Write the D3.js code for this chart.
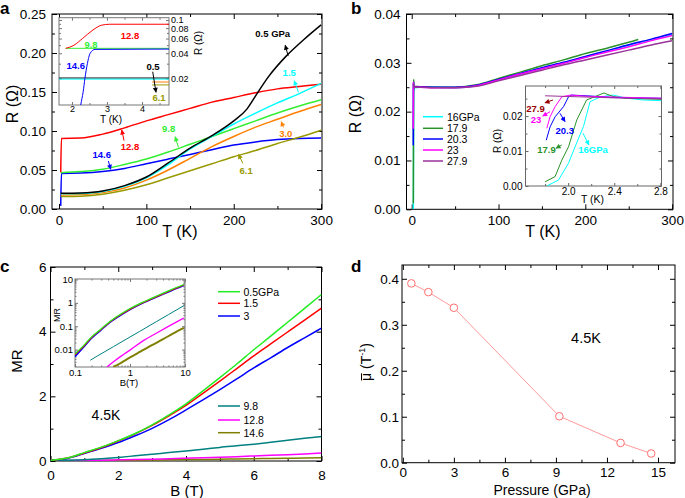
<!DOCTYPE html>
<html><head><meta charset="utf-8">
<script src="https://cdn.jsdelivr.net/npm/d3@7"></script>
<style>body{margin:0;background:#fff}svg{display:block}</style>
</head><body><svg id="c" width="685" height="498"></svg>
<script>
// ================= DATA =================
// Panel a : R(T) at low pressures
const aLabels = ["0.5 GPa","1.5","3.0","6.1","9.8","12.8","14.6"];
const aColors = ["#000000","#00ffff","#ff8000","#999900","#33ee33","#ff0000","#0000ff"];
const aT_05 = [2,25,50,75,100,125,150,175,200,215,225,240,260,280,300];
const aR_05 = [0.0201,0.0205,0.023,0.030,0.041,0.059,0.078,0.094,0.113,0.128,0.145,0.170,0.196,0.217,0.236];
const aT_std = [2,25,50,75,100,125,150,175,200,225,250,275,300];
const aR_15 = [0.0195,0.020,0.0225,0.029,0.040,0.057,0.077,0.093,0.109,0.123,0.136,0.148,0.161];
const aR_30 = [0.018,0.0185,0.021,0.027,0.037,0.050,0.065,0.080,0.093,0.105,0.115,0.125,0.134];
const aR_61 = [0.016,0.0165,0.019,0.024,0.031,0.040,0.049,0.058,0.067,0.075,0.084,0.092,0.101];
const aR_98 = [0.0465,0.048,0.051,0.057,0.064,0.073,0.083,0.093,0.103,0.113,0.123,0.132,0.140];
const aT_sc = [2,2.8,25,50,75,100,125,150,175,200,225,250,275,300];
const aR_128 = [0.047,0.0905,0.091,0.096,0.104,0.113,0.121,0.129,0.137,0.143,0.149,0.154,0.157,0.160];
const aR_146 = [0.004,0.0455,0.046,0.048,0.052,0.058,0.064,0.070,0.076,0.082,0.086,0.089,0.0905,0.091];
// Panel a inset (low T, log R)
const aiT_05 = [1.63,4.77], aiR_05 = [0.0202,0.0202];
const aiT_15 = [1.63,4.77], aiR_15 = [0.0196,0.0196];
const aiT_30 = [4.29,4.77], aiR_30 = [0.0181,0.0181];
const aiT_61 = [4.29,4.77], aiR_61 = [0.0167,0.0167];
const aiT_98 = [1.82,4.77], aiR_98 = [0.0458,0.0458];
const aiT_128 = [1.82,2.06,2.3,2.6,2.84,3.08,4.77];
const aiR_128 = [0.0458,0.050,0.060,0.076,0.0866,0.089,0.089];
const aiT_146 = [2.2,2.25,2.32,2.37,2.44,2.52,2.66,4.77];
const aiR_146 = [0.007,0.0096,0.0138,0.020,0.030,0.040,0.0445,0.0449];
const aTicksX = [0,100,200,300], aTicksY = [0,0.05,0.10,0.15,0.20,0.25];
const aiTicksX = [2,3,4], aiTicksY = [0.02,0.04,0.06,0.08,0.1];

// Panel b : R(T) at high pressures
const bLabels = ["16GPa","17.9","20.3","23","27.9"];
const bColors = ["#00ffff","#2a922a","#0000ff","#ff00ff","#993399"];
const bLoT_16 = [1.815,1.916,2.003,2.07,2.133,2.19,2.28,2.39,2.51,2.65,2.81];
const bLoR_16 = [0,0.0017,0.0065,0.012,0.017,0.0241,0.0255,0.026,0.0251,0.0246,0.0244];
const bLoT_179 = [1.80,1.887,1.945,2.003,2.075,2.16,2.31,2.39,2.5,2.81];
const bLoR_179 = [0.0012,0.0027,0.0074,0.0112,0.0189,0.0246,0.0266,0.0256,0.0251,0.0248];
const bLoT_203 = [1.81,1.843,1.887,1.96,2.003,2.03,2.16,2.4,2.81];
const bLoR_203 = [0.0131,0.0169,0.0198,0.0227,0.0255,0.026,0.0258,0.0253,0.0251];
const bLoT_23 = [1.815,1.843,1.887,1.945,2.017,2.2,2.81];
const bLoR_23 = [0.0165,0.0198,0.0227,0.0255,0.026,0.0256,0.0251];
const bLoT_279 = [1.80,2.0,2.4,2.81];
const bLoR_279 = [0.0258,0.0256,0.0252,0.0249];
const bHiT = [3,10,25,50,75,100,125,150,175,200,225,250,275,300];
const bHiT_179 = [3,10,25,50,75,100,125,150,175,200,225,250,261];
const bHiR_16 = [0.0249,0.0250,0.0250,0.0249,0.0253,0.0265,0.0277,0.0289,0.0300,0.0312,0.0324,0.0336,0.0347,0.0358];
const bHiR_179 = [0.0252,0.0251,0.0250,0.0250,0.0255,0.0268,0.0281,0.0294,0.0306,0.0319,0.0330,0.0342,0.0348];
const bHiR_203 = [0.0251,0.0251,0.0250,0.0250,0.0254,0.0266,0.0278,0.0290,0.0301,0.0313,0.0325,0.0337,0.0348,0.0360];
const bHiR_23 = [0.0250,0.0250,0.0249,0.0249,0.0253,0.0265,0.0277,0.0288,0.0299,0.0311,0.0322,0.0333,0.0345,0.0356];
const bHiR_279 = [0.0250,0.0250,0.0249,0.0249,0.0252,0.0263,0.0274,0.0285,0.0296,0.0306,0.0316,0.0326,0.0336,0.0345];
const bTicksX = [0,100,200,300], bTicksY = [0,0.01,0.02,0.03,0.04];
const biTicksX = [2.0,2.4,2.8], biTicksY = [0,0.01,0.02];

// Panel c : MR(B) at 4.5 K
const cLabels = ["0.5GPa","1.5","3","9.8","12.8","14.6"];
const cColors = ["#22ee22","#ff0000","#0000ff","#008080","#ff00ff","#808000"];
const cB = [0,0.5,1,1.5,2,2.5,3,3.5,4,4.5,5,5.5,6,6.5,7,7.5,8];
const cMR_05 = [0.02,0.09,0.26,0.43,0.63,0.85,1.12,1.43,1.77,2.17,2.58,3.0,3.44,3.86,4.29,4.72,5.15];
const cMR_15 = [0.02,0.09,0.25,0.42,0.62,0.84,1.10,1.40,1.72,2.09,2.47,2.86,3.25,3.62,3.99,4.36,4.73];
const cMR_3 = [0.02,0.08,0.23,0.39,0.57,0.78,1.01,1.28,1.58,1.89,2.21,2.54,2.88,3.19,3.51,3.81,4.11];
const cMR_98 = [0.02,0.025,0.04,0.07,0.11,0.16,0.21,0.26,0.31,0.36,0.42,0.47,0.52,0.58,0.64,0.70,0.76];
const cMR_128 = [0.01,0.012,0.018,0.025,0.035,0.045,0.057,0.07,0.085,0.1,0.117,0.135,0.155,0.175,0.197,0.22,0.245];
const cMR_146 = [0.01,0.011,0.013,0.016,0.02,0.025,0.031,0.037,0.043,0.05,0.057,0.064,0.071,0.078,0.085,0.092,0.1];
// Panel c inset (log-log)
const ciB_low = [0.1,0.14,0.2,0.3,0.43,0.65,1,1.6,2.5,3.5,5.5,9.5];
const ciMR_05 = [0.0065,0.014,0.035,0.078,0.16,0.31,0.57,1.0,1.6,2.27,3.6,6.1];
const ciMR_15 = [0.006,0.013,0.033,0.074,0.153,0.295,0.54,0.95,1.52,2.15,3.4,5.8];
const ciMR_3 = [0.005,0.012,0.031,0.07,0.145,0.28,0.52,0.92,1.46,2.06,3.25,5.5];
const ciB_98 = [0.19,0.25,0.35,0.5,0.87,1.5,3,5,9.5];
const ciMR_98 = [0.0035,0.0052,0.0082,0.0134,0.0286,0.060,0.156,0.314,0.755];
const ciB_128 = [0.38,0.5,0.7,1,1.75,3,5,9.5];
const ciMR_128 = [0.0018,0.003,0.0054,0.0095,0.0243,0.05,0.098,0.225];
const ciB_146 = [0.5,0.7,1,1.5,2.5,4,6,9.5];
const ciMR_146 = [0.0018,0.0028,0.0046,0.0079,0.0155,0.028,0.048,0.085];
const cTicksX = [0,2,4,6,8], cTicksY = [0,2,4,6];
const ciTicksX = [0.1,1,10], ciTicksY = [0.01,0.1,1,10];

// Panel d : mobility vs pressure
const dP = [0.5,1.5,3,9.2,12.8,14.6];
const dMu = [0.39,0.371,0.337,0.101,0.043,0.020];
const dTicksX = [0,3,6,9,12,15], dTicksY = [0,0.1,0.2,0.3,0.4];

// ================= DRAWING =================
const FONT = '"Liberation Sans", Arial, Helvetica, sans-serif';
const svg = d3.select('#c');
const defs = svg.append('defs');
let clipN = 0;
const zip = (xs, ys) => xs.map((v,i)=>[v, ys[i]]);

function plotArea(x, y){
  const id = 'clip' + (clipN++);
  const [x0,x1] = x.range(), [y0,y1] = y.range();
  defs.append('clipPath').attr('id', id).append('rect')
    .attr('x', x0).attr('y', y1).attr('width', x1-x0).attr('height', y0-y1);
  return svg.append('g').attr('clip-path', `url(#${id})`);
}
function marker(color){
  const id = 'm' + color.replace('#','');
  if (defs.select('#'+id).empty()){
    defs.append('marker').attr('id', id).attr('viewBox','0 0 10 10')
      .attr('refX', 9).attr('refY', 5).attr('markerWidth', 6).attr('markerHeight', 5)
      .attr('orient','auto').append('path').attr('d','M0,0 L10,5 L0,10 z').attr('fill', color);
  }
  return id;
}
function styleText(sel, fs){
  sel.selectAll('text').attr('font-size', fs).attr('font-family', FONT).attr('fill', '#000');
}
function axes(x, y, o){
  const [x0,x1] = x.range(), [y0,y1] = y.range();
  const fs = o.fs, L = o.L || 5, m = o.m || 3, stroke = o.stroke || '#000';
  const g = svg.append('g');
  if (o.bg) g.append('rect').attr('x',x0).attr('y',y1).attr('width',x1-x0).attr('height',y0-y1).attr('fill','#fff');
  const sides = [
    [d3.axisBottom, x, `translate(0,${y0})`, o.xT, o.xM, true, o.xFmt, o.padX],
    [d3.axisTop, x, `translate(0,${y1})`, o.xT, o.xM, false, o.xFmt, 3],
    [d3.axisLeft, y, `translate(${x0},0)`, o.yT, o.yM, !o.yRight, o.yFmt, o.padY],
    [d3.axisRight, y, `translate(${x1},0)`, o.yT, o.yM, !!o.yRight, o.yFmt, o.padY]
  ];
  sides.forEach(([fn, sc, tr, vals, minor, lab, fmt, pad]) => {
    const a = g.append('g').attr('transform', tr)
      .call(fn(sc).tickValues(vals).tickSize(-L).tickPadding(pad)
        .tickFormat(lab ? fmt : () => ''));
    a.select('.domain').remove();
    a.selectAll('line').attr('stroke', stroke);
    styleText(a, fs);
    if (minor && minor.length){
      const b = g.append('g').attr('transform', tr)
        .call(fn(sc).tickValues(minor).tickSize(-m).tickFormat(() => ''));
      b.select('.domain').remove();
      b.selectAll('line').attr('stroke', stroke);
    }
  });
  g.append('rect').attr('x',x0).attr('y',y1).attr('width',x1-x0).attr('height',y0-y1)
    .attr('fill','none').attr('stroke', stroke).attr('stroke-width', o.sw || 1);
  return g;
}
function text(str, x, y, o){
  const t = svg.append('text').attr('x', x).attr('y', y).text(str)
    .attr('font-family', FONT).attr('font-size', o.fs).attr('fill', o.color || '#000')
    .attr('text-anchor', o.anchor || 'middle').attr('dominant-baseline', o.base || 'central');
  if (o.bold) t.attr('font-weight', 'bold');
  if (o.rot) t.attr('transform', `rotate(${o.rot},${x},${y})`);
  return t;
}
function arrow(x, y, p1, p2, color){
  svg.append('line').attr('x1', x(p1[0])).attr('y1', y(p1[1])).attr('x2', x(p2[0])).attr('y2', y(p2[1]))
    .attr('stroke', color).attr('stroke-width', 1).attr('marker-end', `url(#${marker(color)})`);
}
function drawLine(g, x, y, pts, color, w, curve){
  g.append('path').datum(pts).attr('fill','none').attr('stroke', color).attr('stroke-width', w)
    .attr('stroke-linejoin','round')
    .attr('d', d3.line().x(d=>x(d[0])).y(d=>y(d[1])).curve(curve || d3.curveLinear));
}
const mids = (t) => t.slice(1).map((v,i)=>(v+t[i])/2);
const fmt2 = d3.format('.2f');

// ---------- Panel a ----------
{
  const x = d3.scaleLinear().domain([-8, 301]).range([52, 322]);
  const y = d3.scaleLinear().domain([0, 0.25]).range([209, 14]);
  axes(x, y, {xT:aTicksX, xM:mids(aTicksX), yT:aTicksY, yM:mids(aTicksY), fs:13.5,
    xFmt:d3.format('d'), yFmt:fmt2, padX:6, padY:6});
  const g = plotArea(x, y);
  const series = [[aT_05,aR_05],[aT_std,aR_15],[aT_std,aR_30],[aT_std,aR_61],[aT_std,aR_98],[aT_sc,aR_128],[aT_sc,aR_146]];
  const order = [6,3,2,4,5,1,0];
  order.forEach(i => drawLine(g, x, y, zip(series[i][0], series[i][1]), aColors[i], 1.5, d3.curveMonotoneX));
  const lab = [
    [0, 244.6, 0.2245, [262.3,0.196],[258.9,0.210]],
    [1, 263.5, 0.175, [274.1,0.1496],[269.2,0.1645]],
    [2, 259.5, 0.0972, [256.9,0.1047],[254.3,0.1119]],
    [3, 214.2, 0.0500, [210.4,0.0586],[205.4,0.0701]],
    [4, 125.4, 0.1031, [136.7,0.0791],[132.9,0.0927]],
    [5, 81.3, 0.0797, [74.5,0.0876],[71.8,0.1013]],
    [6, 48.9, 0.0702, [56.5,0.0615],[59.2,0.0509]]
  ];
  lab.forEach(([i, tx, ty, p1, p2]) => {
    text(aLabels[i], x(tx), y(ty), {fs:9.5, bold:true, color:aColors[i]});
    arrow(x, y, p1, p2, aColors[i]);
  });
  text('R (\u03A9)', 12, 104, {fs:16, rot:-90});
  text('T (K)', 180, 231, {fs:16});
  text('a', 0, 8, {fs:17, bold:true, anchor:'start'});

  // inset
  const xi = d3.scaleLinear().domain([1.63, 4.77]).range([59, 169]);
  const yi = d3.scaleLog().domain([0.0096, 0.1066]).range([105, 17.7]);
  axes(xi, yi, {xT:aiTicksX, xM:[2.5,3.5,4.5], yT:aiTicksY, yM:[0.03,0.05,0.07,0.09], fs:9,
    xFmt:d3.format('d'), yFmt:d => (d===0.1?'0.1':fmt2(d)), padX:1, padY:2, yRight:true,
    stroke:'#777', L:3, m:2, bg:true});
  const gi = plotArea(xi, yi);
  const iser = [[aiT_05,aiR_05],[aiT_15,aiR_15],[aiT_30,aiR_30],[aiT_61,aiR_61],[aiT_98,aiR_98],[aiT_128,aiR_128],[aiT_146,aiR_146]];
  [0,1,2,3,4,5,6].forEach(i => drawLine(gi, xi, yi, zip(iser[i][0], iser[i][1]), aColors[i], 1, d3.curveMonotoneX));
  text('12.8', xi(3.657), yi(0.0645), {fs:9.5, bold:true, color:aColors[5]});
  text('9.8', xi(2.544), yi(0.0505), {fs:9.5, bold:true, color:aColors[4]});
  text('14.6', xi(2.107), yi(0.0285), {fs:9.5, bold:true, color:aColors[6]});
  text('0.5', xi(4.313), yi(0.0280), {fs:9.5, bold:true, color:aColors[0]});
  text('6.1', xi(4.485), yi(0.0118), {fs:9.5, bold:true, color:aColors[3]});
  arrow(xi, yi, [4.305,0.0240], [4.399,0.0136], '#000');
  text('R (\u03A9)', 198, 43, {fs:10, rot:-90});
  text('T (K)', 111, 119, {fs:10});
}

// ---------- Panel b ----------
{
  const x = d3.scaleLinear().domain([-6, 301]).range([406.5, 673]);
  const y = d3.scaleLinear().domain([0, 0.04]).range([209.3, 14]);
  axes(x, y, {xT:bTicksX, xM:mids(bTicksX), yT:bTicksY, yM:mids(bTicksY), fs:13.5,
    xFmt:d3.format('d'), yFmt:fmt2, padX:6, padY:6});
  const g = plotArea(x, y);
  const lo = [[bLoT_16,bLoR_16],[bLoT_179,bLoR_179],[bLoT_203,bLoR_203],[bLoT_23,bLoR_23],[bLoT_279,bLoR_279]];
  const hi = [[bHiT,bHiR_16],[bHiT_179,bHiR_179],[bHiT,bHiR_203],[bHiT,bHiR_23],[bHiT,bHiR_279]];
  [0,1,2,3,4].forEach(i => drawLine(g, x, y, zip(lo[i][0], lo[i][1]).concat(zip(hi[i][0], hi[i][1])), bColors[i], 1.5, d3.curveMonotoneX));
  const ly = [116.7,128.3,139,150,161];
  bLabels.forEach((s,i) => {
    svg.append('line').attr('x1',423).attr('x2',443).attr('y1',ly[i]).attr('y2',ly[i])
      .attr('stroke', bColors[i]).attr('stroke-width', 1.5);
    text(s, 447, ly[i], {fs:10.5, anchor:'start'});
  });
  text('R (\u03A9)', 355, 114, {fs:16, rot:-90});
  text('T (K)', 543, 231, {fs:16});
  text('b', 351, 8, {fs:17, bold:true, anchor:'start'});

  // inset
  const xi = d3.scaleLinear().domain([1.63, 2.81]).range([525.5, 661.5]);
  const yi = d3.scaleLinear().domain([0, 0.0286]).range([186, 86]);
  axes(xi, yi, {xT:biTicksX, xM:[1.8,2.2,2.6], yT:biTicksY, yM:[0.005,0.015,0.025], fs:10,
    xFmt:d3.format('.1f'), yFmt:fmt2, padX:2, padY:3, stroke:'#666', L:3, m:2, bg:true});
  const gi = plotArea(xi, yi);
  [0,1,2,3,4].forEach(i => drawLine(gi, xi, yi, zip(lo[i][0], lo[i][1]), bColors[i], 1));
  const il = [
    ['27.9','#990000', 1.717, 0.0222, [1.869,0.0246],[1.799,0.0238]],
    ['23', bColors[3], 1.721, 0.0189, [1.843,0.02125],[1.779,0.0200]],
    ['20.3', bColors[2], 1.970, 0.0159, [1.929,0.0208],[1.973,0.0184]],
    ['17.9', bColors[1], 1.812, 0.0105, [1.944,0.01172],[1.895,0.01078]],
    ['16GPa', bColors[0], 2.216, 0.0105, [2.129,0.01507],[2.181,0.01172]]
  ];
  il.forEach(([s,c,tx,ty,p1,p2]) => {
    text(s, xi(tx), yi(ty), {fs:9.5, bold:true, color:c});
    arrow(xi, yi, p1, p2, c);
  });
  text('R (\u03A9)', 497, 141, {fs:10, rot:-90});
  text('T (K)', 592.5, 198.5, {fs:10.5});
}

// ---------- Panel c ----------
{
  const x = d3.scaleLinear().domain([0, 8]).range([50.5, 321.5]);
  const y = d3.scaleLinear().domain([0, 6]).range([461, 267]);
  axes(x, y, {xT:cTicksX, xM:[1,3,5,7], yT:cTicksY, yM:[1,3,5], fs:13.5,
    xFmt:d3.format('d'), yFmt:d3.format('d'), padX:9, padY:4});
  const g = plotArea(x, y);
  const cs = [cMR_05,cMR_15,cMR_3,cMR_98,cMR_128,cMR_146];
  [5,4,3,2,1,0].forEach(i => drawLine(g, x, y, zip(cB, cs[i]), cColors[i], 1.5, d3.curveMonotoneX));
  const ly = [291.7,303.3,316,406,420,432.7];
  cLabels.forEach((s,i) => {
    svg.append('line').attr('x1',218).attr('x2',240).attr('y1',ly[i]).attr('y2',ly[i])
      .attr('stroke', cColors[i]).attr('stroke-width', 1.5);
    text(s, 243.5, ly[i], {fs:10.5, anchor:'start'});
  });
  text('4.5K', 106, 415, {fs:14});
  text('MR', 16, 361, {fs:15, rot:-90});
  text('B (T)', 187, 490, {fs:15});
  text('c', 0, 266, {fs:17, bold:true, anchor:'start'});

  // inset
  const xi = d3.scaleLog().domain([0.1, 10]).range([75, 185]);
  const yi = d3.scaleLog().domain([0.0018, 10.5]).range([367, 279]);
  const xMin = [0.2,0.3,0.4,0.5,0.6,0.7,0.8,0.9,2,3,4,5,6,7,8,9];
  const yMin = [0.002,0.003,0.004,0.005,0.006,0.007,0.008,0.009,0.02,0.03,0.04,0.05,0.06,0.07,0.08,0.09,
                0.2,0.3,0.4,0.5,0.6,0.7,0.8,0.9,2,3,4,5,6,7,8,9];
  axes(xi, yi, {xT:ciTicksX, xM:xMin, yT:ciTicksY, yM:yMin, fs:9.5,
    xFmt:d => String(d), yFmt:d => String(d), padX:2, padY:2, stroke:'#777', L:3, m:1.5, bg:true});
  const gi = plotArea(xi, yi);
  const ci = [[ciB_low,ciMR_05],[ciB_low,ciMR_15],[ciB_low,ciMR_3],[ciB_98,ciMR_98],[ciB_128,ciMR_128],[ciB_146,ciMR_146]];
  const wid = [1.2,1.2,1.6,1,1.3,2];
  [5,4,3,2,1,0].forEach(i => drawLine(gi, xi, yi, zip(ci[i][0], ci[i][1]), cColors[i], wid[i], d3.curveMonotoneX));
  text('MR', 57, 315, {fs:9, rot:-90});
  text('B(T)', 129, 382, {fs:9.5});
}

// ---------- Panel d ----------
{
  const x = d3.scaleLinear().domain([-0.05, 16]).range([402, 675]);
  const y = d3.scaleLinear().domain([0, 0.43]).range([462.7, 265]);
  axes(x, y, {xT:dTicksX, xM:[1.5,4.5,7.5,10.5,13.5], yT:dTicksY, yM:[0.05,0.15,0.25,0.35], fs:13.5,
    xFmt:d3.format('d'), yFmt:d3.format('.1f'), padX:5, padY:3});
  const pts = zip(dP, dMu);
  svg.append('path').datum(pts).attr('fill','none').attr('stroke','#ff9a9a').attr('stroke-width',1)
    .attr('d', d3.line().x(d=>x(d[0])).y(d=>y(d[1])));
  svg.selectAll('circle.d').data(pts).enter().append('circle')
    .attr('cx', d=>x(d[0])).attr('cy', d=>y(d[1])).attr('r', 3.8)
    .attr('fill','#fff').attr('stroke','#ff6f6f').attr('stroke-width',1);
  text('4.5K', 586, 337.5, {fs:14.5});
  const gl = svg.append('g').attr('transform','translate(366,362) rotate(-90)');
  const t = gl.append('text').attr('x', 0).attr('y', 5)
    .attr('font-family', FONT).attr('font-size', 14).attr('text-anchor','middle');
  t.append('tspan').text('\u03BC');
  t.append('tspan').text(' (T');
  t.append('tspan').text('-1').attr('font-size', 9).attr('dy', -6);
  t.append('tspan').text(')').attr('dy', 6);
  const n = t.node();
  const s0 = n.getStartPositionOfChar(0), e0 = n.getEndPositionOfChar(0);
  gl.append('line').attr('x1', s0.x + 0.5).attr('x2', e0.x - 0.5).attr('y1', -4.5).attr('y2', -4.5)
    .attr('stroke', '#000').attr('stroke-width', 1);
  text('Pressure (GPa)', 542, 490, {fs:14});
  text('d', 351, 266, {fs:17, bold:true, anchor:'start'});
}
</script></body></html>
